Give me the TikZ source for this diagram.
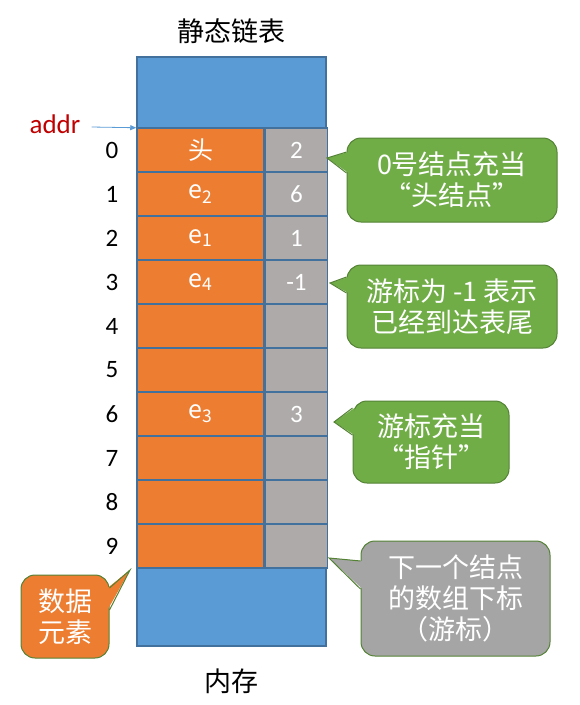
\documentclass[tikz,border=0pt]{standalone}
\usepackage{fontspec}
\setmainfont{Carlito}
\newfontfamily\cjk{Noto Sans CJK SC}
\newcommand\openq{\makebox[1em][r]{“}}
\newcommand\closeq{\makebox[1em][l]{”}}
\usetikzlibrary{arrows.meta}

\definecolor{memblue}{HTML}{5B9BD5}
\definecolor{memedge}{HTML}{41719C}
\definecolor{dataorange}{HTML}{ED7D31}
\definecolor{cursorgray}{HTML}{AEAAAA}
\definecolor{notegreen}{HTML}{70AD47}
\definecolor{noteedge}{HTML}{548235}
\definecolor{notegray}{HTML}{A5A5A5}
\definecolor{addrred}{HTML}{C00000}

\begin{document}
\begin{tikzpicture}[x=1pt, y=-1pt,
    every node/.append style={inner sep=0pt, font=\fontsize{25}{30}\selectfont},
    cell/.style={draw=memedge, line width=1.5pt, minimum height=44pt, text=white},
    datacell/.style={cell, fill=dataorange, minimum width=127pt},
    cursorcell/.style={cell, fill=cursorgray, minimum width=62pt},
    block/.style={draw=memedge, line width=1.5pt, fill=memblue, minimum width=189pt},
    note/.style={draw=noteedge, line width=1pt, rounded corners=14pt, text=white,
      align=center, font=\cjk\fontsize{27}{31}\selectfont},
    wedge/.style={draw=noteedge, line width=1pt, line join=miter}]
  \useasboundingbox (0,0) rectangle (580,705);

  % memory
  \node (title) [font=\cjk\fontsize{27}{30}\selectfont] at (231,31) {静态链表};
  \node (top) [block, minimum height=71pt] at (231.5,92.5) {};
  \foreach \i/\elem/\cur in {0/头/2, 1/e\textsubscript{2}/6, 2/e\textsubscript{1}/1,
      3/e\textsubscript{4}/-1, 4//, 5//, 6/e\textsubscript{3}/3, 7//, 8//, 9//} {
    \node (d\i) [datacell] at (200.5,150+44*\i) {\ifx\elem\empty\else\cjk\fontsize{25}{30}\selectfont\elem\fi};
    \node (c\i) [cursorcell, anchor=west] at (d\i.east) {\cur};
    \node (i\i) at (112,150+44*\i) {\i};
  }
  \node (bottom) [block, minimum height=78pt] at (231.5,607) {};
  \node (mem) [font=\cjk\fontsize{27}{30}\selectfont] at (231,681) {内存};

  % addr
  \node (addr) [text=addrred, font=\fontsize{27}{30}\selectfont] at (55,124) {addr};
  \draw[-{Triangle[length=6pt,width=5pt]}, memblue, line width=0.8pt]
    ([xshift=11pt,yshift=-3pt]addr.east) -- ([yshift=1pt]top.south west);

  % notes
  \node (headnote) [note, fill=notegreen, minimum width=210pt, minimum height=84pt]
    at (452,180) {0号结点充当\\\openq 头结点\closeq};
  \coordinate (headtip) at (327,158);
  \fill[notegreen] ([xshift=2pt,yshift=28pt]headnote.west) -- (headtip) -- ([xshift=2pt,yshift=7pt]headnote.west) -- cycle;
  \draw[wedge] ([yshift=28pt]headnote.west) -- (headtip) -- ([yshift=7pt]headnote.west);

  \node (tailnote) [note, fill=notegreen, minimum width=210pt, minimum height=83pt]
    at (452,306.5) {游标为 -1 表示\\已经到达表尾};
  \coordinate (tailtip) at (330,283);
  \fill[notegreen] ([xshift=2pt,yshift=29.5pt]tailnote.west) -- (tailtip) -- ([xshift=2pt,yshift=13.5pt]tailnote.west) -- cycle;
  \draw[wedge] ([yshift=29.5pt]tailnote.west) -- (tailtip) -- ([yshift=13.5pt]tailnote.west);

  \node (ptrnote) [note, fill=notegreen, minimum width=156pt, minimum height=82pt]
    at (431,442) {游标充当\\\openq 指针\closeq};
  \coordinate (ptrtip) at (334,422);
  \fill[notegreen] ([xshift=2pt,yshift=34pt]ptrnote.west) -- (ptrtip) -- ([xshift=2pt,yshift=7pt]ptrnote.west) -- cycle;
  \draw[wedge] ([yshift=34pt]ptrnote.west) -- (ptrtip) -- ([yshift=7pt]ptrnote.west);

  \node (curnote) [note, fill=notegray, minimum width=189pt, minimum height=115pt]
    at (455.5,598.5) {下一个结点\\的数组下标\\（游标）};
  \coordinate (curtip) at (329,558);
  \fill[notegray] ([xshift=2pt,yshift=37.5pt]curnote.west) -- (curtip) -- ([xshift=2pt,yshift=9.5pt]curnote.west) -- cycle;
  \draw[wedge] ([yshift=37.5pt]curnote.west) -- (curtip) -- ([yshift=9.5pt]curnote.west);

  \node (elemnote) [note, fill=dataorange, minimum width=88pt, minimum height=83pt]
    at (65,616.5) {数据\\元素};
  \coordinate (elemtip) at (130,570);
  \fill[dataorange] ([xshift=-2pt,yshift=28.5pt]elemnote.east) -- (elemtip) -- ([xshift=-2pt,yshift=6.5pt]elemnote.east) -- cycle;
  \draw[wedge] ([yshift=28.5pt]elemnote.east) -- (elemtip) -- ([yshift=6.5pt]elemnote.east);
\end{tikzpicture}
\end{document}
